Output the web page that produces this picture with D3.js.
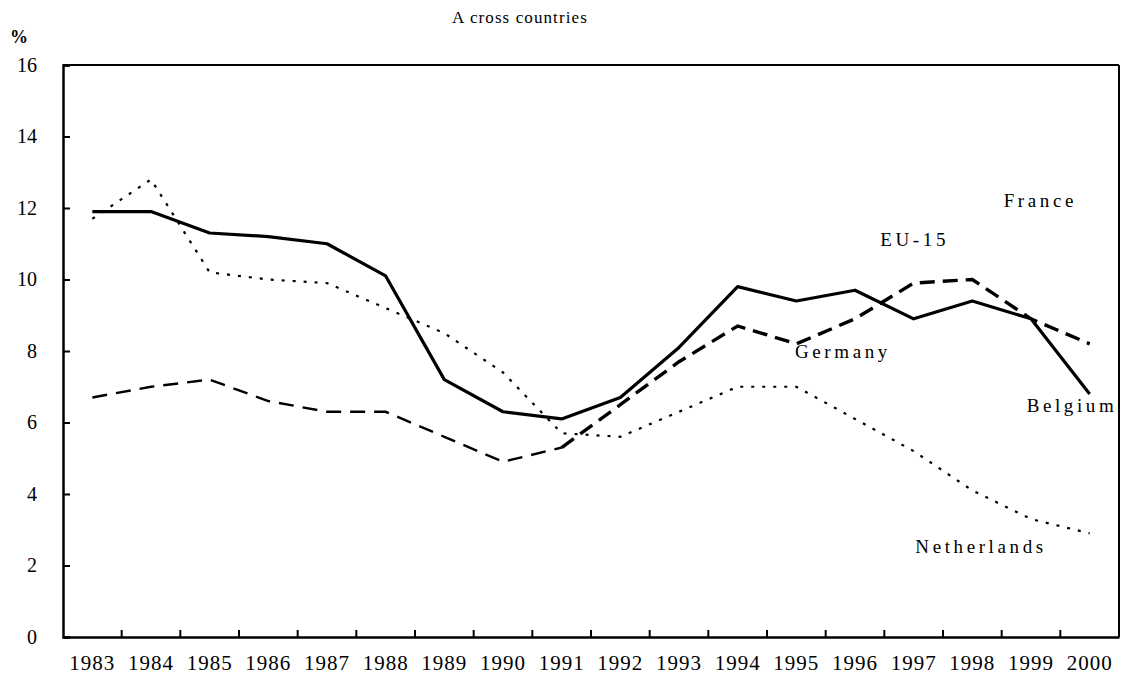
<!DOCTYPE html>
<html lang="en">
<head>
<meta charset="utf-8">
<style type="text/css">
    body { margin: 0; background: #fff; }
    text { font-family: "Liberation Serif", "Times New Roman", serif; fill: #000; }
    .axis path, .axis line { stroke: #000; }
    .axis text { font-size: 20px; }
    .lbl { font-size: 19px; letter-spacing: 3.6px; }
</style>
</head>
<body>
<svg width="1128" height="685"></svg>
<script src="https://cdn.jsdelivr.net/npm/d3@7"></script>
<script type="text/javascript">
    var years = ["1983","1984","1985","1986","1987","1988","1989","1990","1991",
                 "1992","1993","1994","1995","1996","1997","1998","1999","2000"];
    var belgium     = [11.9, 11.9, 11.3, 11.2, 11.0, 10.1, 7.2, 6.3, 6.1, 6.7, 8.1, 9.8, 9.4, 9.7, 8.9, 9.4, 8.9, 6.8];
    var germany     = [6.7, 7.0, 7.2, 6.6, 6.3, 6.3, 5.6, 4.9, 5.3, 6.5, 7.7, 8.7, 8.2, 8.9, 9.9, 10.0, 8.9, 8.2];
    var netherlands = [11.7, 12.8, 10.2, 10.0, 9.9, 9.2, 8.5, 7.4, 5.7, 5.6, 6.3, 7.0, 7.0, 6.1, 5.2, 4.1, 3.3, 2.9];
    var yTicks = [0, 2, 4, 6, 8, 10, 12, 14, 16];

    // text labels placed in the plot (France and EU-15 lines are not visible in the source)
    var labels = [
        {text: "France", year: "1999", value: 12.03, dx: 2},
        {text: "EU-15", year: "1997", value: 10.94, dx: -4},
        {text: "Germany", year: "1995", value: 7.8, dx: 28},
        {text: "Belgium", year: "1999", value: 6.3, dx: 25},
        {text: "Netherlands", year: "1997", value: 2.35, dx: 31}
    ];

    var svg = d3.select("svg"),
        pLeft = 63, pRight = 1119, pTop = 65, pBottom = 637;

    var x = d3.scaleBand().domain(years).range([pLeft, pRight]);
    var y = d3.scaleLinear().domain([0, 16]).range([pBottom, pTop]);

    // frame
    svg.append("line").attr("x1", pLeft).attr("x2", pRight).attr("y1", pTop).attr("y2", pTop)
        .attr("stroke", "#000").attr("stroke-width", 2);
    svg.append("line").attr("x1", pRight).attr("x2", pRight).attr("y1", pTop).attr("y2", pBottom)
        .attr("stroke", "#000").attr("stroke-width", 2);

    var xAxis = svg.append("g").attr("class", "axis")
        .attr("transform", "translate(0," + pBottom + ")")
        .call(d3.axisBottom(x).tickSize(0).tickPadding(18));
    xAxis.select(".domain").attr("stroke-width", 2.5);
    xAxis.selectAll("text").style("font-size", "21px").attr("letter-spacing", "1px");

    // tick marks between years, pointing up
    svg.append("g").selectAll("line")
        .data(years.slice(1))
        .enter().append("line")
        .attr("x1", function (d) { return x(d); })
        .attr("x2", function (d) { return x(d); })
        .attr("y1", pBottom).attr("y2", pBottom - 7)
        .attr("stroke", "#000").attr("stroke-width", 2);

    var yAxis = svg.append("g").attr("class", "axis")
        .attr("transform", "translate(" + pLeft + ",0)")
        .call(d3.axisLeft(y).tickValues(yTicks).tickSize(-7).tickPadding(26));
    yAxis.select(".domain").attr("stroke-width", 2.5);
    yAxis.selectAll(".tick line").attr("stroke-width", 2);

    svg.append("text").attr("x", 10).attr("y", 43).style("font-size", "18px")
        .style("font-weight", "bold").text("%");

    svg.append("text").attr("x", 520).attr("y", 23).attr("text-anchor", "middle")
        .style("font-size", "17px").attr("letter-spacing", "1.1px").text("A cross countries");

    var line = d3.line()
        .x(function (d, i) { return x(years[i]) + x.bandwidth() / 2; })
        .y(function (d) { return y(d); });

    svg.append("path").datum(netherlands).attr("d", line)
        .attr("fill", "none").attr("stroke", "#000").attr("stroke-width", 2.2)
        .attr("stroke-dasharray", "3,8");

    // Germany: lighter dashes up to 1991, heavier afterwards (as in the source)
    var gerEarly = d3.line()
        .defined(function (d, i) { return i <= 8; })
        .x(line.x()).y(line.y());
    var gerLate = d3.line()
        .defined(function (d, i) { return i >= 8; })
        .x(line.x()).y(line.y());

    svg.append("path").datum(germany).attr("d", gerEarly)
        .attr("fill", "none").attr("stroke", "#000").attr("stroke-width", 2.4)
        .attr("stroke-dasharray", "15,9");
    svg.append("path").datum(germany).attr("d", gerLate)
        .attr("fill", "none").attr("stroke", "#000").attr("stroke-width", 3.4)
        .attr("stroke-dasharray", "15,8");

    svg.append("path").datum(belgium).attr("d", line)
        .attr("fill", "none").attr("stroke", "#000").attr("stroke-width", 3.2)
        .attr("stroke-linejoin", "round");

    svg.append("g").selectAll("text")
        .data(labels)
        .enter().append("text")
        .attr("class", "lbl")
        .attr("x", function (d) { return x(d.year) + d.dx; })
        .attr("y", function (d) { return y(d.value); })
        .text(function (d) { return d.text; });
</script>
</body>
</html>
